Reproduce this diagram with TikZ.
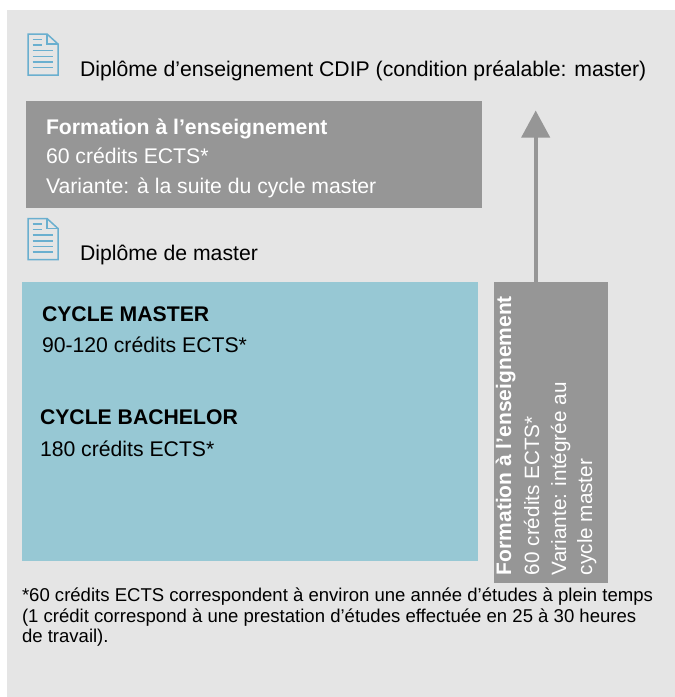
\documentclass[tikz,border=0pt]{standalone}
\usepackage{fontspec}
\setmainfont{Liberation Sans}
\usetikzlibrary{arrows.meta}

\definecolor{panelgray}{HTML}{E5E5E5}
\definecolor{boxgray}{HTML}{969696}
\definecolor{cyclecyan}{HTML}{97C8D4}
\definecolor{iconblue}{HTML}{6AAFCF}

\tikzset{
	    every node/.style={
					inner sep=0pt,
					outer sep=0pt,
					anchor=base west,
					font=\fontsize{21.2pt}{25pt}\selectfont
	    },
	    whitetext/.style={white},
	    sidetext/.style={white, rotate=90, font=\fontsize{20.7pt}{25pt}\selectfont},
	    notetext/.style={font=\fontsize{18.55pt}{22pt}\selectfont},
	    boxfill/.style={fill=boxgray, anchor=north west},
	    icon/.pic={
			\draw[iconblue, line width=1.5pt] (0,0) -- (19,0) -- (30,10) -- (30,41) -- (0,41) -- cycle;
			\draw[iconblue, line width=1.5pt] (19,0) -- (19,10) -- (30,10);
			\draw[iconblue, line width=1.5pt] (4.7,5.3) -- (13.7,5.3);
			\draw[iconblue, line width=1.5pt] (4.7,11) -- (13.7,11);
			\foreach \y in {16.7,22.3,28,33.7} {
				\draw[iconblue, line width=1.5pt] (4.7,\y) -- (25.3,\y);
			}
		}
}

\begin{document}
\begin{tikzpicture}[x=1pt, y=-1pt]
			\useasboundingbox (0,0) rectangle (675,697);
			\fill[panelgray] (7,10) rectangle (675,697);

			\pic at (28,34) {icon};
			\pic at (28,218.5) {icon};

			\node (dipcdip) at (80,76) {Diplôme d’enseignement CDIP (condition préalable: master)};
			\node (dipmaster) at (80,260.5) {Diplôme de master};

			% upper box
			\node[boxfill, minimum width=456pt, minimum height=107pt] (upperbox) at (26,101) {};
			\node[whitetext] (uppertitle) at (46,134) {\textbf{Formation à l’enseignement}};
			\node[whitetext] (upperects) at (46,163) {60 crédits ECTS*};
			\node[whitetext] (uppervar) at (46,193) {Variante: à la suite du cycle master};

			% cycles
			\node[fill=cyclecyan, anchor=north west, minimum width=456pt, minimum height=279pt] (cyclebox) at (22,282) {};
			\node (mastertitle) at (42,321) {\textbf{CYCLE MASTER}};
			\node (masterects) at (42,352.5) {90-120 crédits ECTS*};
			\node (bachelortitle) at (40,424) {\textbf{CYCLE BACHELOR}};
			\node (bachelorects) at (40,456.5) {180 crédits ECTS*};

			% side box
			\node[boxfill, minimum width=114pt, minimum height=301pt] (sidebox) at (494,282) {};
			\node[sidetext, font=\fontsize{21pt}{25pt}\selectfont] (sidetitle) at (511,575) {\textbf{Formation à l’enseignement}};
			\node[sidetext] (sideects) at (539,575) {60 crédits ECTS*};
			\node[sidetext] (sidevar) at (566,575) {Variante: intégrée au};
			\node[sidetext] (sidecycle) at (592,575) {cycle master};

			\coordinate (arrowtop) at (535.7,110.5);
			\draw[boxgray, line width=4pt, -{Triangle[width=28pt, length=27pt]}] (sidebox.north -| arrowtop) to (arrowtop);

			% footnote
			\node[notetext] (noteone) at (22,601) {*60 crédits ECTS correspondent à environ une année d’études à plein temps};
			\node[notetext] (notetwo) at (22,622.5) {(1 crédit correspond à une prestation d'études effectuée en 25 à 30 heures};
			\node[notetext] (notethree) at (22,642.5) {de travail).};
		\end{tikzpicture}
\end{document}
